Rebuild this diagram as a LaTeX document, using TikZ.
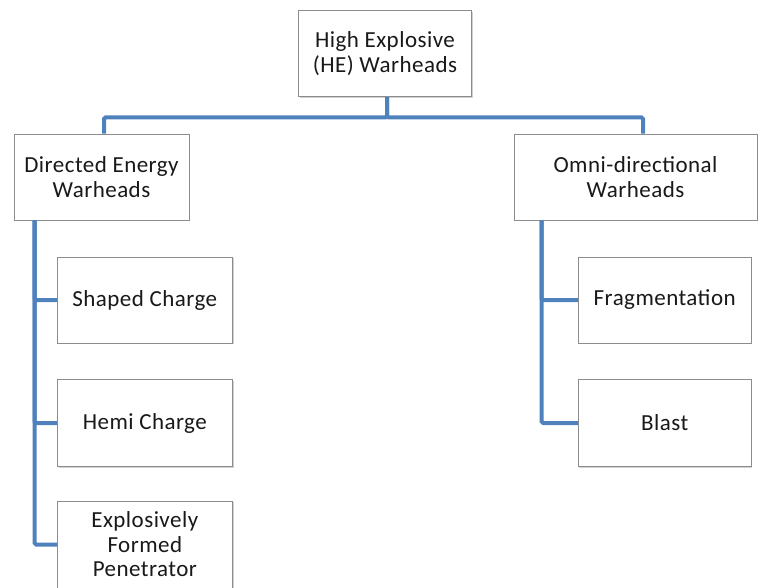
\documentclass[tikz,border=0pt]{standalone}
\usepackage{fontspec}
\setmainfont{Carlito}[LetterSpace=2]
\usetikzlibrary{shadows}
\definecolor{busblue}{RGB}{79,129,189}

\begin{document}
\begin{tikzpicture}[x=1pt,y=-1pt,
  box/.style={draw=black!45,fill=white,line width=0.8pt,align=center,
    font=\fontsize{23}{24.5}\selectfont,text=black!90,inner sep=0pt,
    drop shadow={shadow xshift=1.2pt,shadow yshift=-1.2pt,fill=black!30,opacity=0.6}},
  bus/.style={draw=busblue,line width=4pt,rounded corners=1.5pt}]
\useasboundingbox (0,0) rectangle (759,587);

\node[box,minimum width=173pt,minimum height=86pt] (he) at (385,53.7) {High Explosive\\(HE) Warheads};
\node[box,minimum width=175pt,minimum height=86pt] (de) at (101.5,177) {Directed Energy\\Warheads};
\node[box,minimum width=243pt,minimum height=86pt] (omni) at (635.5,177) {Omni-directional\\Warheads};

\node[box,minimum width=175pt,minimum height=86pt] (shaped) at (144.8,300) {Shaped Charge};
\node[box,minimum width=175pt,minimum height=87pt] (hemi) at (144.8,423) {Hemi Charge};
\node[box,minimum width=175pt,minimum height=87pt] (efp) at (144.8,544.5) {Explosively\\Formed\\Penetrator};

\node[box,minimum width=173pt,minimum height=86pt] (frag) at (664.7,300) {Fragmentation};
\node[box,minimum width=173pt,minimum height=87pt] (blast) at (664.7,423) {Blast};

% connectors
\draw[bus] ([xshift=2pt]he.south) -- ++(0,20.3) -| ([xshift=2.5pt]de.north);
\draw[bus] ([xshift=2pt]he.south) -- ++(0,20.3) -| ([xshift=7.5pt]omni.north);
\draw[bus] ([xshift=21pt]de.south west) |- (shaped.west);
\draw[bus] ([xshift=21pt]de.south west) |- (hemi.west);
\draw[bus] ([xshift=21pt]de.south west) |- (efp.west);
\draw[bus] ([xshift=28pt]omni.south west) |- (frag.west);
\draw[bus] ([xshift=28pt]omni.south west) |- (blast.west);

\end{tikzpicture}
\end{document}
